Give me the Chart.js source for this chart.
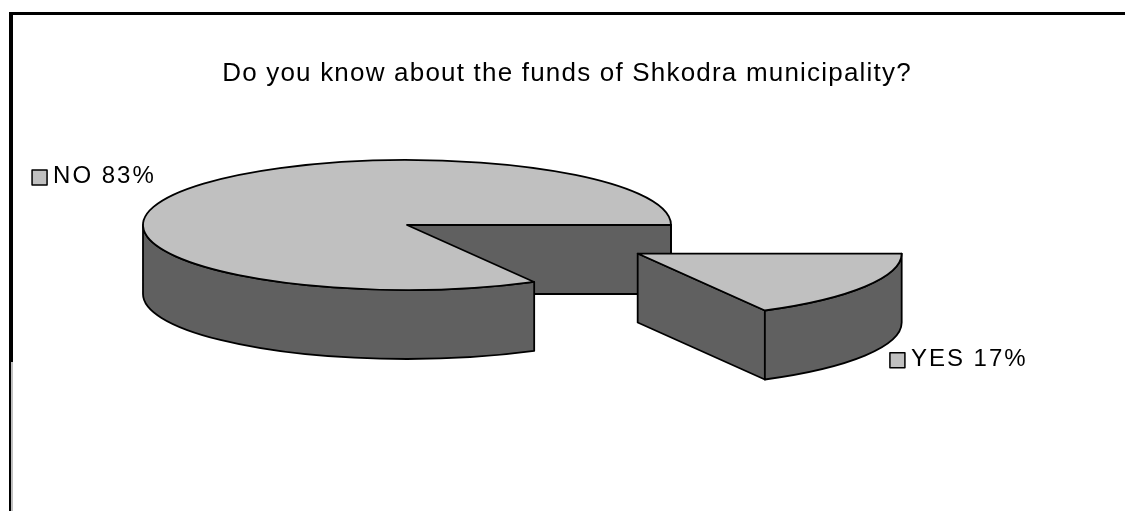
<!DOCTYPE html>
<html>
<head>
<meta charset="utf-8">
<script src="https://cdn.jsdelivr.net/npm/chart.js@4.4.0/dist/chart.umd.min.js"></script>
<style>
  html, body { margin: 0; padding: 0; background: #fff; }
  #wrap { position: relative; width: 1125px; height: 511px; }
</style>
</head>
<body>
<div id="wrap"><canvas id="pieChart"></canvas></div>
<script>
const chartTitle = "Do you know about the funds of Shkodra municipality?";
const answers = ["YES", "NO"];
const shares = [17, 83];

// look of the old excel 3d pie
const topColor = "#C0C0C0";
const sideColor = "#606060";
const tilt = 65 / 264; // height/width of the ellipse
const depth = 69; // wall height
const fontFamily = "'Liberation Sans', Arial, sans-serif";

const pie3d = {
  id: "pie3d",
  beforeDatasetsDraw(chart) {
    const ctx = chart.ctx;
    const arcs = chart.getDatasetMeta(0).data;

    const slices = arcs.map((arc, i) => {
      const p = arc.getProps(["x", "y", "startAngle", "endAngle", "outerRadius"], true);
      const mid = (p.startAngle + p.endAngle) / 2;
      const off = arc.options.offset || 0;
      return {
        i: i,
        s: p.startAngle,
        e: p.endAngle,
        mid: mid,
        r: p.outerRadius,
        cx: p.x + Math.cos(mid) * off,
        cy: p.y + Math.sin(mid) * off * tilt * 0.85,
      };
    });

    const pt = (sl, a, z) => [sl.cx + sl.r * Math.cos(a), sl.cy + sl.r * tilt * Math.sin(a) + z];

    ctx.save();
    ctx.lineWidth = 1.8;
    ctx.lineJoin = "round";
    ctx.strokeStyle = "#000";

    const face = (sl, a) => {
      const rim = pt(sl, a, 0);
      ctx.beginPath();
      ctx.moveTo(sl.cx, sl.cy);
      ctx.lineTo(rim[0], rim[1]);
      ctx.lineTo(rim[0], rim[1] + depth);
      ctx.lineTo(sl.cx, sl.cy + depth);
      ctx.closePath();
      ctx.fillStyle = sideColor;
      ctx.fill();
      ctx.stroke();
    };

    // far slices first
    slices.slice().sort((a, b) => a.cy - b.cy).forEach((sl) => {
      const full = sl.e - sl.s >= Math.PI * 2 - 1e-6;
      if (!full) {
        if (Math.cos(sl.s) < 0) face(sl, sl.s);
        if (Math.cos(sl.e) > 0) face(sl, sl.e);
      }
      // front part of the round wall
      for (let k = -1; k <= 2; k++) {
        const lo = Math.PI * 2 * k;
        const a1 = Math.max(sl.s, lo);
        const a2 = Math.min(sl.e, lo + Math.PI);
        if (a2 > a1) {
          ctx.beginPath();
          ctx.ellipse(sl.cx, sl.cy, sl.r, sl.r * tilt, 0, a1, a2);
          ctx.ellipse(sl.cx, sl.cy + depth, sl.r, sl.r * tilt, 0, a2, a1, true);
          ctx.closePath();
          ctx.fillStyle = sideColor;
          ctx.fill();
          ctx.stroke();
        }
      }
      // top
      ctx.beginPath();
      if (!full) ctx.moveTo(sl.cx, sl.cy);
      ctx.ellipse(sl.cx, sl.cy, sl.r, sl.r * tilt, 0, sl.s, sl.e);
      ctx.closePath();
      ctx.fillStyle = topColor;
      ctx.fill();
      ctx.stroke();
    });

    // data labels with a small colour box
    ctx.font = "24px " + fontFamily;
    ctx.letterSpacing = "2px";
    ctx.textBaseline = "alphabetic";
    ctx.textAlign = "left";
    slices.forEach((sl) => {
      const text = answers[sl.i] + " " + shares[sl.i] + "%";
      const rim = pt(sl, sl.mid, 0);
      const ty = Math.sin(sl.mid) < 0 ? rim[1] - 17 : rim[1] + depth + 2;
      const w = 21 + ctx.measureText(text).width;
      const bx = Math.cos(sl.mid) < 0 ? rim[0] - 24 - w : rim[0] + 25;
      ctx.fillStyle = topColor;
      ctx.fillRect(bx, ty - 5, 15, 15);
      ctx.lineWidth = 1.5;
      ctx.strokeRect(bx, ty - 5, 15, 15);
      ctx.fillStyle = "#000";
      ctx.fillText(text, bx + 21, ty + 8.5);
    });
    ctx.restore();
    return false;
  },
  afterDraw(chart) {
    const ctx = chart.ctx;
    ctx.save();
    // frame (only top and left show)
    ctx.fillStyle = "#000";
    ctx.fillRect(9, 12, chart.width - 9, 3);
    ctx.fillRect(9, 12, 4, 350);
    ctx.fillRect(9, 362, 2, chart.height - 362);
    ctx.fillStyle = "#C0C0C0";
    ctx.fillRect(11, 362, 2, chart.height - 362);

    ctx.font = "26px " + fontFamily;
    ctx.letterSpacing = "1.2px";
    ctx.textAlign = "center";
    ctx.textBaseline = "alphabetic";
    ctx.fillStyle = "#000";
    ctx.fillText(chartTitle, (9 + chart.width) / 2, 81);
    ctx.restore();
  },
};

document.addEventListener("DOMContentLoaded", () => {
  const ctx = document.getElementById("pieChart").getContext("2d");
  new Chart(ctx, {
    type: "pie",
    data: {
      labels: answers,
      datasets: [
        {
          data: shares,
          backgroundColor: topColor,
          borderColor: "#000",
          offset: [268, 0],
        },
      ],
    },
    options: {
      responsive: true,
      maintainAspectRatio: false,
      animation: false,
      events: [],
      rotation: 90,
      radius: 264,
      layout: {
        padding: { left: 0, right: 311, top: 86, bottom: 147 },
      },
      plugins: {
        legend: { display: false },
        tooltip: { enabled: false },
        title: { display: false },
      },
    },
    plugins: [pie3d],
  });
});
</script>
</body>
</html>
